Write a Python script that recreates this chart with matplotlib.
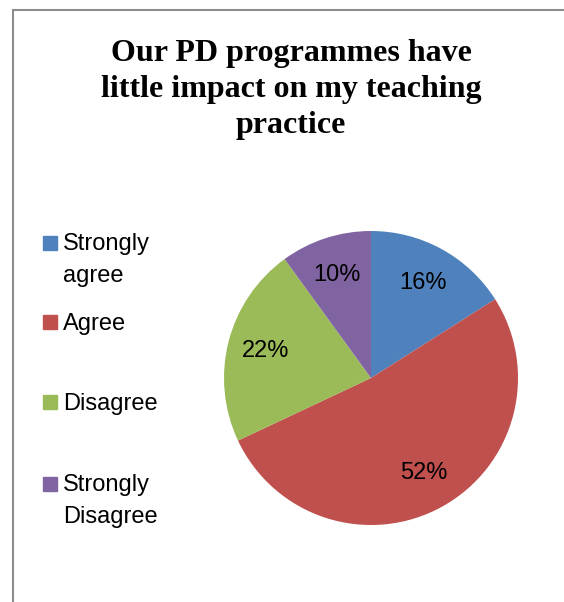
import matplotlib
matplotlib.use("Agg")
import matplotlib.pyplot as plt
from matplotlib.patches import Rectangle

categories = ["Strongly\nagree", "Agree", "Disagree", "Strongly\nDisagree"]
values = [16, 52, 22, 10]
colors = ["#4F81BD", "#C0504D", "#9BBB59", "#8064A2"]
title = "Our PD programmes have\nlittle impact on my teaching\npractice"

W, H = 564, 602
narrow = ["Liberation Sans Narrow", "Liberation Sans", "DejaVu Sans"]

fig = plt.figure(figsize=(W / 100, H / 100), dpi=100)

# grey chart-area border (right and bottom edges fall outside the crop)
fig.patches.append(Rectangle((13 / W, -0.1), 1.2, (H - 10) / H + 0.1,
                             transform=fig.transFigure, fill=False,
                             edgecolor="#8c8c8c", linewidth=1.5))

# va="baseline" puts the last line's baseline at y
fig.text(291 / W, 1 - 133 / H, title, ha="center", va="baseline",
         fontsize=23, fontweight="bold", family="Liberation Serif",
         linespacing=1.31)

ax = fig.add_axes([224 / W, 1 - 525 / H, 294 / W, 294 / H])
wedges, texts, autotexts = ax.pie(values, colors=colors, startangle=90,
                                  counterclock=False, autopct="%d%%",
                                  pctdistance=0.74,
                                  wedgeprops=dict(linewidth=0))
for t in autotexts:
    t.set_fontsize(17)
    t.set_family(narrow)
ax.set_xlim(-1, 1)
ax.set_ylim(-1, 1)
ax.set_aspect("equal")

# legend: square marker aligned with first line of each label
baselines = [251, 330, 410, 492]
line_step = 31
for lab, col, y in zip(categories, colors, baselines):
    fig.patches.append(Rectangle((43 / W, 1 - (y - 1) / H), 14 / W, 14 / H,
                                 transform=fig.transFigure, color=col))
    last = y + line_step * lab.count("\n")
    fig.text(63 / W, 1 - last / H, lab, ha="left", va="baseline",
             fontsize=17, family=narrow, linespacing=1.6)

fig.savefig("out.png", dpi=100)
